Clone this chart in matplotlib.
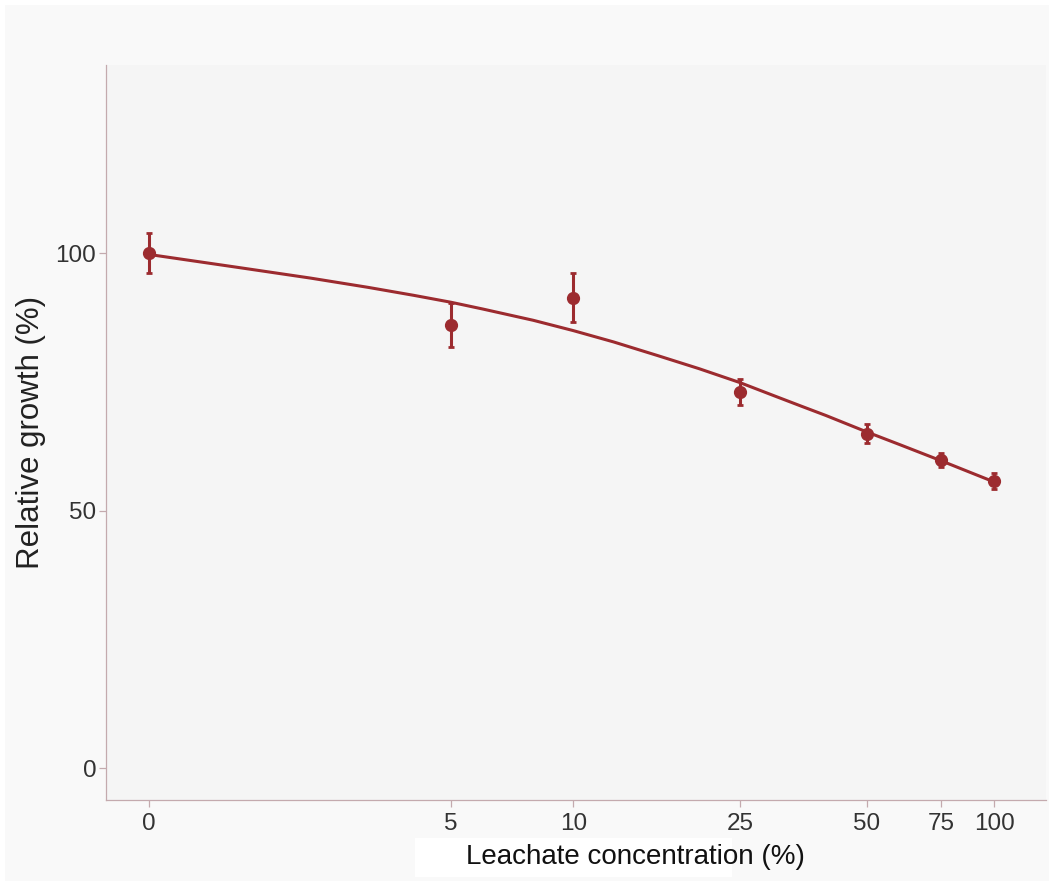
import numpy as np
import matplotlib.pyplot as plt
from matplotlib.patches import Rectangle

plt.rcParams['font.family'] = ['Liberation Sans', 'DejaVu Sans']

# измеренные точки
conc = [0, 5, 10, 25, 50, 75, 100]
growth = [100.1, 86.1, 91.4, 73.0, 65.0, 59.8, 55.8]
err_lo = [96.2, 81.8, 86.6, 70.5, 63.1, 58.4, 54.3]
err_hi = [104.0, 90.4, 96.2, 75.6, 66.8, 61.3, 57.4]

# подгоночная кривая
fit_conc = [0, 1, 2, 3, 4, 5, 6, 8, 10, 12.5, 16, 20, 25, 30, 35, 40,
            50, 60, 75, 87.5, 100]
fit_growth = [99.8, 97.3, 95.2, 93.4, 91.85, 90.5, 89.2, 87.0, 85.0, 82.8,
              80.1, 77.6, 74.9, 72.4, 70.3, 68.5, 65.3, 62.8, 59.7, 57.5, 55.6]

tick_vals = [0, 5, 10, 25, 50, 75, 100]
red = '#9c2b2f'
spine = '#c4aaae'

fig = plt.figure(figsize=(10.49, 8.84), dpi=100)
fig.patch.set_facecolor('white')
fig.patches.append(Rectangle((5 / 1049, 3 / 884), 1044 / 1049, 876 / 884,
                             transform=fig.transFigure, facecolor='#f9f9f9',
                             edgecolor='none', zorder=-10))

ax = fig.add_axes([106 / 1049, 84 / 884, 940 / 1049, 735 / 884])
ax.set_facecolor('#f5f5f5')
ax.set_xscale('asinh', linear_width=2)

ax.plot(fit_conc, fit_growth, color=red, lw=2.2, zorder=2)
g = np.array(growth)
yerr = [g - np.array(err_lo), np.array(err_hi) - g]
ax.errorbar(conc, growth, yerr=yerr, fmt='o', color=red, ms=8.5,
            elinewidth=2.2, capsize=2, capthick=2, zorder=3)

ax.set_xlim(-0.47, 132.7)
ax.set_ylim(-6.2, 136.6)
ax.set_xticks(tick_vals)
ax.set_xticklabels([str(v) for v in tick_vals])
ax.xaxis.set_minor_locator(plt.NullLocator())
ax.set_yticks([0, 50, 100])

for s in ['top', 'right']:
    ax.spines[s].set_visible(False)
for s in ['left', 'bottom']:
    ax.spines[s].set_color(spine)
    ax.spines[s].set_linewidth(0.9)
ax.tick_params(axis='both', colors=spine, labelcolor='#333333',
               labelsize=17.5, length=5, width=0.9)
ax.tick_params(axis='y', pad=2)
ax.tick_params(axis='x', pad=4)

ax.set_ylabel('Relative growth (%)', fontsize=22.5, color='#222222')
ax.yaxis.set_label_coords(-0.08, 0.5)
ax.yaxis.label.set_va('center')

# белая плашка под подписью оси X
fig.patches.append(Rectangle((415 / 1049, 1 - 877 / 884), 317 / 1049, 39 / 884,
                             transform=fig.transFigure, facecolor='white',
                             edgecolor='none', zorder=1))
fig.text(635 / 1049, 1 - 857 / 884, 'Leachate concentration (%)',
         fontsize=20, color='#111111', ha='center', va='center', zorder=5)

plt.savefig('out.png', dpi=100)
